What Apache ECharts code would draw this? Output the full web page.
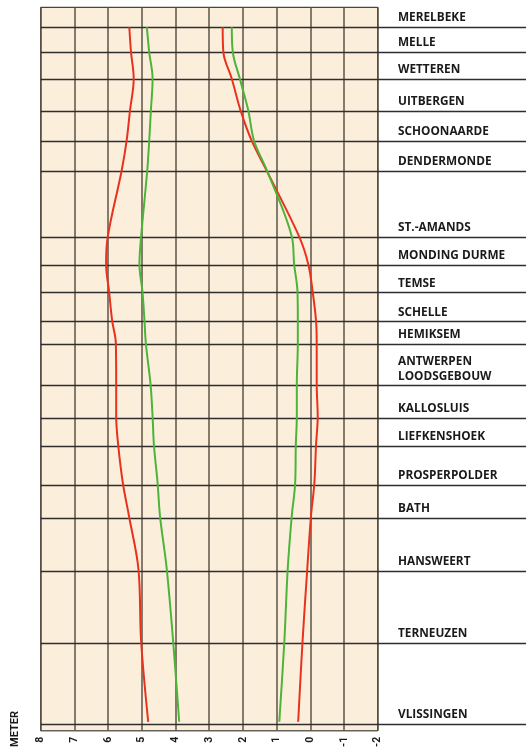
<!DOCTYPE html>
<html><head><meta charset="utf-8">
<script src="https://cdn.jsdelivr.net/npm/echarts@6/dist/echarts.min.js"></script>
<style>html,body{margin:0;padding:0;background:#fff}#c{width:526px;height:750px}</style>
</head><body><div id="c"></div>
<script>
// Stations along the Scheldt (upstream -> downstream)
const stations = ['MERELBEKE','MELLE','WETTEREN','UITBERGEN','SCHOONAARDE','DENDERMONDE','ST.-AMANDS','MONDING DURME','TEMSE','SCHELLE','HEMIKSEM','ANTWERPEN\nLOODSGEBOUW','KALLOSLUIS','LIEFKENSHOEK','PROSPERPOLDER','BATH','HANSWEERT','TERNEUZEN','VLISSINGEN'];
// Relative distance along the river (km scale of the chart)
const stationKm = [4.4, 9.9, 15.8, 22.8, 29.5, 36.2, 50.7, 56.8, 62.9, 69.3, 74.3, 83.4, 90.5, 96.8, 105.3, 112.5, 124.2, 140.2, 158.0];
// Water levels (meter)
const redHigh   = [5.37, 5.32, 5.24, 5.35, 5.45, 5.60, 6.01, 6.06, 5.97, 5.88, 5.77, 5.76, 5.76, 5.70, 5.56, 5.38, 5.10, 5.02, 4.81];
const greenHigh = [4.85, 4.78, 4.68, 4.73, 4.78, 4.84, 5.02, 5.07, 4.98, 4.92, 4.88, 4.74, 4.68, 4.64, 4.53, 4.46, 4.26, 4.07, 3.89];
const redLow    = [2.60, 2.58, 2.33, 2.07, 1.74, 1.29, 0.33, 0.06, -0.07, -0.17, -0.19, -0.19, -0.22, -0.17, -0.12, -0.02, 0.09, 0.23, 0.36];
const greenLow  = [2.33, 2.30, 2.09, 1.84, 1.67, 1.28, 0.55, 0.48, 0.38, 0.37, 0.37, 0.40, 0.40, 0.43, 0.45, 0.55, 0.67, 0.77, 0.92];
const xTicksMin = -2, xTicksMax = 8;
const riverMin = 0, riverMax = 160;

const pairs = arr => arr.map((v, i) => [v, stationKm[i]]);
const RED = '#e8321e', GREEN = '#4cb43a';
const mk = (data, color) => ({
  type: 'line', xAxisIndex: 0, yAxisIndex: 0, data: pairs(data), showSymbol: false, symbol: 'none',
  smooth: 0.35, z: 5, lineStyle: { color, width: 2 }, silent: true
});

const chart = echarts.init(document.getElementById('c'), null, { renderer: 'canvas' });
chart.setOption({
  animation: false,
  backgroundColor: '#ffffff',
  grid: [
    { left: 40.7, right: 148.3, top: 7.3, bottom: 16.7, show: true, backgroundColor: '#fbefdc', borderColor: '#1a1a1a', borderWidth: 1, z: 0 },
    { left: 40.7, right: 0, top: 7.3, bottom: 16.7, show: false }
  ],
  xAxis: [
    { gridIndex: 0, type: 'value', min: xTicksMin, max: xTicksMax, interval: 1, inverse: true, position: 'bottom',
      axisLine: { show: false }, axisTick: { show: false },
      splitLine: { show: true, lineStyle: { color: '#5e5448', width: 1.5 } },
      axisLabel: { rotate: 90, margin: 6, fontSize: 10.5, fontWeight: 'bold', color: '#1a1a1a', fontFamily: 'Roboto' } },
    { gridIndex: 1, type: 'value', min: 0, max: 1, show: false }
  ],
  yAxis: [
    { gridIndex: 0, type: 'value', min: riverMin, max: riverMax, inverse: true, show: false },
    { gridIndex: 1, type: 'value', min: riverMin, max: riverMax, inverse: true, show: false }
  ],
  graphic: [
    { type: 'text', left: 10, top: 711, rotation: Math.PI / 2, style: { text: 'METER', font: 'bold 11px Roboto', fill: '#1a1a1a' } }
  ],
  series: [
    {
      type: 'line', xAxisIndex: 1, yAxisIndex: 1, data: [[0, riverMin]], showSymbol: false, symbol: 'none',
      lineStyle: { opacity: 0 }, silent: true, z: 2,
      markLine: {
        silent: true, symbol: ['none', 'none'], animation: false,
        lineStyle: { color: '#2e2e2e', width: 1.3, type: 'solid' },
        label: { show: true, position: 'insideStartTop', distance: [357.3, 2], formatter: p => p.name,
          color: '#1a1a1a', fontFamily: 'Open Sans', fontWeight: 'bold', fontSize: 11.8, lineHeight: 15 },
        emphasis: { disabled: true },
        data: stations.map((s, i) => ({ name: s, yAxis: stationKm[i] }))
      }
    },
    mk(redHigh, RED), mk(greenHigh, GREEN), mk(redLow, RED), mk(greenLow, GREEN)
  ]
});
</script></body></html>
